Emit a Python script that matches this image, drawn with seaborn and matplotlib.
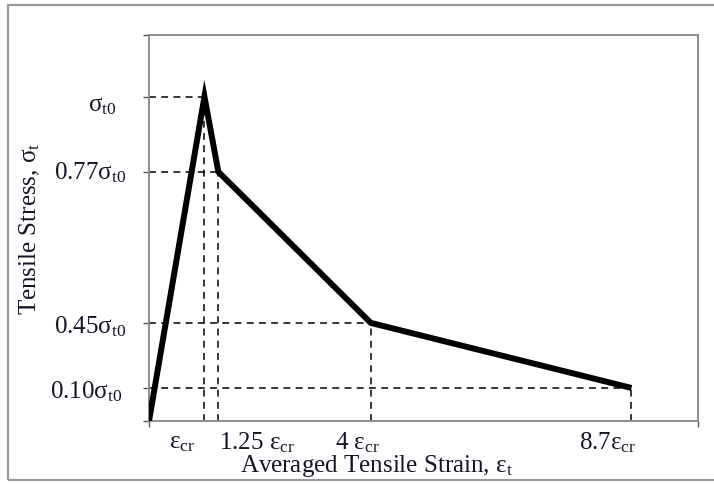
import numpy as np
import matplotlib
matplotlib.use("Agg")
import matplotlib.pyplot as plt
import seaborn as sns
import pandas as pd
from matplotlib.patches import Rectangle

# Tension-softening curve: strain in units of eps_cr, stress in units of sigma_t0
strain = [0.0, 1.0, 1.25, 4.0, 8.7]
stress = [0.0, 1.0, 0.77, 0.45, 0.10]

strain_ticks = [1.0, 1.25, 4.0, 8.7]
strain_labels = ["ε$_{\\mathrm{cr}}$", "1.25 ε$_{\\mathrm{cr}}$",
                 "4 ε$_{\\mathrm{cr}}$", "8.7ε$_{\\mathrm{cr}}$"]
stress_ticks = [1.0, 0.77, 0.45, 0.10]
stress_labels = ["σ$_{\\mathrm{t0}}$", "0.77σ$_{\\mathrm{t0}}$",
                 "0.45σ$_{\\mathrm{t0}}$", "0.10σ$_{\\mathrm{t0}}$"]

# The stress axis is schematic (not to scale): knot values and drawn heights
axis_knots = [-1.0, 0.0, 0.10, 0.45, 0.77, 1.0, 2.0]
axis_height = [-324.0, 0.0, 33.0, 98.0, 249.0, 324.0, 650.0]


def forward(v):
    return np.interp(v, axis_knots, axis_height)


def inverse(h):
    return np.interp(h, axis_height, axis_knots)


sns.set_theme(style="white")
plt.rcParams["font.family"] = ["Liberation Serif", "DejaVu Serif"]
plt.rcParams["mathtext.fontset"] = "custom"
plt.rcParams["mathtext.rm"] = "Liberation Serif"
plt.rcParams["mathtext.it"] = "Liberation Serif:italic"

W, H = 714, 485
fig = plt.figure(figsize=(W / 100, H / 100), dpi=100)
ax = fig.add_axes([149 / W, 1 - 422 / H, (698 - 149) / W, (422 - 35.7) / H])

df = pd.DataFrame({"strain": strain, "stress": stress})

ax.set_yscale("function", functions=(forward, inverse))
ax.set_xlim(0, 9.9)
ax.set_ylim(0, 1.19)

# dashed guides from each knot to the axes
for xs, ys in zip(strain[1:], stress[1:]):
    ax.plot([0, xs], [ys, ys], color="black", lw=1.1, ls=(0, (4.5, 3.5)),
            zorder=2)
    ax.plot([xs, xs], [0, ys], color="black", lw=1.1, ls=(0, (4.5, 3.5)),
            zorder=2)

sns.lineplot(data=df, x="strain", y="stress", sort=False, estimator=None,
             color="black", lw=4.3, ax=ax, zorder=3,
             solid_joinstyle="miter", solid_capstyle="butt")

for side in ["left", "bottom", "right", "top"]:
    ax.spines[side].set_color("#8c8c8c")
    ax.spines[side].set_linewidth(1.4)

ax.set_xticks([0, 9.9])
ax.set_xticklabels([])
ax.set_yticks([0] + stress_ticks + [1.19])
ax.set_yticklabels([])
ax.tick_params(axis="both", direction="out", length=4.5, width=1.0,
               color="#555555", bottom=True, left=True)
ax.set_xlabel("")
ax.set_ylabel("")

txt = "#15152a"
fs = 18

# strain labels under the axis
x_off = [-16, 28, -10, -17]
for xv, lab, dx in zip(strain_ticks, strain_labels, x_off):
    ax.annotate(lab, xy=(xv, 0), xycoords="data", xytext=(dx, -15),
                textcoords="offset points", ha="center", va="center",
                fontsize=fs, color=txt)

# stress labels left of the axis
y_off = [(-23, -6), (-16.5, 0), (-16.5, -2), (-19, -2)]
for yv, lab, (dx, dy) in zip(stress_ticks, stress_labels, y_off):
    ax.annotate(lab, xy=(0, yv), xycoords="data", xytext=(dx, dy),
                textcoords="offset points", ha="right", va="center",
                fontsize=fs, color=txt)

fig.text(376 / W, 1 - 466 / H, "Averaged Tensile Strain, ε$_{\\mathrm{t}}$",
         ha="center", va="center", fontsize=fs, color=txt)
fig.text(30 / W, 1 - 229 / H, "Tensile Stress, σ$_{\\mathrm{t}}$",
         ha="center", va="center", rotation=90, fontsize=fs, color=txt)

# outer frame around the figure
fig.patches.append(Rectangle((8 / W, 1 - 481 / H), 1.2, (481 - 6) / H,
                             transform=fig.transFigure, fill=False,
                             edgecolor="#9a9a9a", lw=1.6))

fig.savefig("out.png", dpi=100)
